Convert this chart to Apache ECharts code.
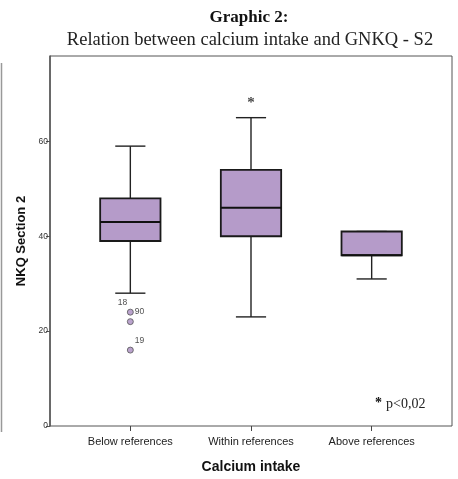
<!DOCTYPE html>
<html><head><meta charset="utf-8">
<script src="https://cdn.jsdelivr.net/npm/echarts@6/dist/echarts.min.js"></script>
<style>html,body{margin:0;padding:0;background:#fff}#c{width:458px;height:479px}</style>
</head><body><div id="c"></div>
<script>
var categories = ['Below references', 'Within references', 'Above references'];
var boxMin    = [28, 23, 31];
var boxQ1     = [39, 40, 36];
var boxMedian = [43, 46, 36];
var boxQ3     = [48, 54, 41];
var boxMax    = [59, 65, 41];
var outlierCat   = [0, 0, 0];
var outlierValue = [24, 22, 16];
var outlierCase  = ['18', '90', '19'];
var extremeCat   = [1];
var extremeValue = [69];
var yTicks = [0, 20, 40, 60];

var boxData = categories.map(function (c, i) {
  return [i, boxMin[i], boxQ1[i], boxMedian[i], boxQ3[i], boxMax[i]];
});
var labelPositions = [[-9, -10], [8, -11], [8, -10]];
var outlierData = outlierValue.map(function (v, i) {
  return {
    value: [outlierCat[i], v],
    label: { show: true, formatter: outlierCase[i], position: labelPositions[i] }
  };
});
var extremeData = extremeValue.map(function (v, i) { return [extremeCat[i], v]; });

var chart = echarts.init(document.getElementById('c'), null, { renderer: 'canvas' });
var FILL = '#b59bc9';
chart.setOption({
  animation: false,
  backgroundColor: '#fff',
  title: [
    { text: 'Graphic 2:', left: 244, top: 4, textAlign: 'center',
      textStyle: { fontFamily: 'Liberation Serif', fontWeight: 'bold', fontSize: 17, color: '#111' } },
    { text: 'Relation between calcium intake and GNKQ - S2', left: 245, top: 26, textAlign: 'center',
      textStyle: { fontFamily: 'Liberation Serif', fontWeight: 'normal', fontSize: 18.5, color: '#222' } }
  ],
  grid: { left: 70, right: 26, top: 56, bottom: 53 },
  xAxis: {
    type: 'category', data: categories, boundaryGap: true,
    axisLine: { show: false },
    axisTick: { show: true, alignWithLabel: true, length: 5, lineStyle: { color: '#444' } },
    axisLabel: { interval: 0, fontFamily: 'Liberation Sans', fontSize: 11, color: '#222', margin: 10 },
    name: 'Calcium intake', nameLocation: 'middle', nameGap: 34,
    nameTextStyle: { fontFamily: 'Liberation Sans', fontWeight: 'bold', fontSize: 14, color: '#111' }
  },
  yAxis: {
    type: 'value', min: 0, max: 78, interval: 20, offset: 20,
    splitLine: { show: false },
    axisLine: { show: true, lineStyle: { color: '#555', width: 1.5 } },
    axisTick: { show: true, length: 4, customValues: yTicks, lineStyle: { color: '#555' } },
    axisLabel: { customValues: yTicks, fontFamily: 'Liberation Sans', fontSize: 8.5, color: '#333', margin: 2 },
    name: 'NKQ Section 2', nameLocation: 'middle', nameGap: 20, nameRotate: 90,
    nameTextStyle: { fontFamily: 'Liberation Sans', fontWeight: 'bold', fontSize: 13, color: '#111' }
  },
  graphic: [
    { type: 'rect', shape: { x: 50, y: 56, width: 402, height: 370 }, style: { fill: null, stroke: '#555', lineWidth: 1 }, z: 0 },
    { type: 'line', shape: { x1: 1.5, y1: 63, x2: 1.5, y2: 432 }, style: { stroke: '#999', lineWidth: 1.5 } },
    { type: 'text', left: 375, top: 396, style: { text: '*', fontFamily: 'Liberation Serif', fontWeight: 'bold', fontSize: 14, fill: '#111' } },
    { type: 'text', left: 386, top: 397, style: { text: 'p<0,02', fontFamily: 'Liberation Serif', fontSize: 14, fill: '#222' } }
  ],
  series: [
    {
      type: 'custom', data: boxData, z: 3,
      encode: { x: 0, y: [1, 2, 3, 4, 5] },
      renderItem: function (params, api) {
        var idx = api.value(0);
        var band = api.size([1, 0])[0];
        var bw = band * 0.5, cw = band * 0.25;
        var pMin = api.coord([idx, api.value(1)]);
        var pQ1 = api.coord([idx, api.value(2)]);
        var pMed = api.coord([idx, api.value(3)]);
        var pQ3 = api.coord([idx, api.value(4)]);
        var pMax = api.coord([idx, api.value(5)]);
        var x = pQ1[0];
        var ws = { stroke: '#222', lineWidth: 1.4 };
        return {
          type: 'group',
          children: [
            { type: 'line', shape: { x1: x, y1: pMax[1], x2: x, y2: pQ3[1] }, style: ws },
            { type: 'line', shape: { x1: x, y1: pQ1[1], x2: x, y2: pMin[1] }, style: ws },
            { type: 'line', shape: { x1: x - cw / 2, y1: pMax[1], x2: x + cw / 2, y2: pMax[1] }, style: ws },
            { type: 'line', shape: { x1: x - cw / 2, y1: pMin[1], x2: x + cw / 2, y2: pMin[1] }, style: ws },
            { type: 'rect', shape: { x: x - bw / 2, y: pQ3[1], width: bw, height: pQ1[1] - pQ3[1] },
              style: { fill: FILL, stroke: '#1a1a1a', lineWidth: 1.8 } },
            { type: 'line', shape: { x1: x - bw / 2, y1: pMed[1], x2: x + bw / 2, y2: pMed[1] },
              style: { stroke: '#111', lineWidth: 2 } }
          ]
        };
      }
    },
    {
      type: 'scatter', data: outlierData, symbol: 'circle', symbolSize: 6, z: 4,
      itemStyle: { color: '#a98cc0', borderColor: '#555', borderWidth: 1 },
      label: { fontFamily: 'Liberation Sans', fontSize: 8.5, color: '#222' }
    },
    {
      type: 'scatter', data: extremeData, z: 4, symbolSize: 0,
      label: { show: true, position: 'inside', formatter: '*', fontFamily: 'Liberation Serif', fontWeight: 'bold', fontSize: 15, color: '#111', offset: [0, 4] }
    }
  ]
});
</script></body></html>
